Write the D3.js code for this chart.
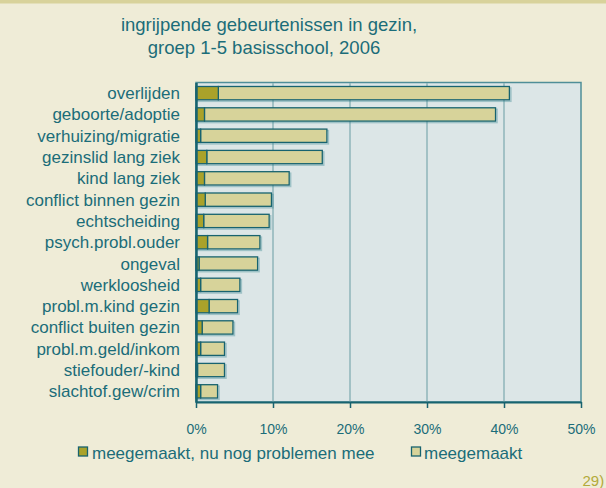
<!DOCTYPE html>
<html><head><meta charset="utf-8">
<script src="https://cdn.jsdelivr.net/npm/d3@7"></script>
<style>
html,body{margin:0;padding:0;background:#efecd7;}
svg{display:block;font-family:"Liberation Sans",Arial,sans-serif;}
</style></head>
<body><svg id="c" width="606" height="488"></svg>
<script>
const categories = ["overlijden","geboorte/adoptie","verhuizing/migratie","gezinslid lang ziek","kind lang ziek","conflict binnen gezin","echtscheiding","psych.probl.ouder","ongeval","werkloosheid","probl.m.kind gezin","conflict buiten gezin","probl.m.geld/inkom","stiefouder/-kind","slachtof.gew/crim"];
const problemen = [2.9,1.1,0.6,1.4,1.1,1.2,1.0,1.5,0.4,0.6,1.7,0.8,0.6,0.2,0.6];
const meegemaakt = [37.8,37.8,16.4,15.0,11.0,8.6,8.5,6.8,7.6,5.1,3.7,4.0,3.1,3.5,2.2];
const tickValues = [0,10,20,30,40,50];
const seriesNames = ["meegemaakt, nu nog problemen mee","meegemaakt"];
const titleLines = ["ingrijpende gebeurtenissen in gezin,","groep 1-5 basisschool, 2006"];
const pageLabel = "29)";

const svg = d3.select("#c");
const teal = "#1b6d79", dark = "#aaa22a", light = "#d7d39a";

svg.append("rect").attr("x",0).attr("y",0).attr("width",606).attr("height",488).attr("fill","#efecd7");
svg.append("rect").attr("x",0).attr("y",0).attr("width",606).attr("height",3.5).attr("fill","#d8d29b");

// title
svg.append("text").attr("x",269).attr("y",31).attr("text-anchor","middle").attr("font-size",18.5).attr("fill",teal).text(titleLines[0]);
svg.append("text").attr("x",264).attr("y",54).attr("text-anchor","middle").attr("font-size",18.5).attr("fill",teal).text(titleLines[1]);

const x = d3.scaleLinear().domain([0,50]).range([196,581]);
const y = d3.scaleBand().domain(categories).range([82.5,402]).paddingInner(0.375).paddingOuter(0.1875);

// plot background
svg.append("rect").attr("x",x(0)).attr("y",82.5).attr("width",x(50)-x(0)).attr("height",402-82.5)
  .attr("fill","#dce6e7").attr("stroke","#4f8e98").attr("stroke-width",1.5);

// gridlines
svg.append("g").selectAll("line").data(tickValues.slice(1,-1)).join("line")
  .attr("x1",d=>x(d)).attr("x2",d=>x(d)).attr("y1",83).attr("y2",402)
  .attr("stroke","#8fb5ba").attr("stroke-width",1.5);

const rows = categories.map((c,i)=>({c, p:problemen[i], m:meegemaakt[i]}));
const g = svg.append("g");
// shadows
g.selectAll("rect.sh").data(rows).join("rect").attr("class","sh")
  .attr("x",x(0)+1.5).attr("y",d=>y(d.c)+1.5).attr("width",d=>x(d.p+d.m)-x(0)).attr("height",y.bandwidth())
  .attr("fill","none").attr("stroke","#2a7f8a").attr("stroke-opacity",0.35).attr("stroke-width",1.5);
g.selectAll("rect.m").data(rows).join("rect").attr("class","m")
  .attr("x",d=>x(d.p)).attr("y",d=>y(d.c)).attr("width",d=>x(d.p+d.m)-x(d.p)).attr("height",y.bandwidth())
  .attr("fill",light).attr("stroke","#17636f").attr("stroke-width",1.3);
g.selectAll("rect.p").data(rows).join("rect").attr("class","p")
  .attr("x",x(0)).attr("y",d=>y(d.c)).attr("width",d=>x(d.p)-x(0)).attr("height",y.bandwidth())
  .attr("fill",dark).attr("stroke","#17636f").attr("stroke-width",1.3);

// axes
const xAxis = d3.axisBottom(x).tickValues(tickValues).tickFormat(d=>d+"%").tickSize(6).tickSizeOuter(0);
const ax = svg.append("g").attr("transform","translate(0,402)").call(xAxis);
ax.select(".domain").attr("stroke","#17636f").attr("stroke-width",2.2);
ax.selectAll(".tick line").attr("stroke","#17636f").attr("stroke-width",1.5);
ax.selectAll(".tick text").attr("fill",teal).attr("font-size",14).attr("font-family","Liberation Sans, Arial, sans-serif").attr("y",32).attr("dy",0);

const yAxis = d3.axisLeft(y).tickSize(0).tickPadding(16);
const ay = svg.append("g").attr("transform",`translate(${x(0)},0)`).call(yAxis);
ay.select(".domain").attr("stroke","#17636f").attr("stroke-width",2.5);
ay.selectAll(".tick text").attr("fill",teal).attr("font-size",17).attr("font-family","Liberation Sans, Arial, sans-serif").attr("dy","0.35em");

// legend
const leg = [{n:seriesNames[0],f:dark,x:78.5,tx:92},{n:seriesNames[1],f:light,x:411.5,tx:424}];
const lg = svg.append("g").selectAll("g").data(leg).join("g");
lg.append("rect").attr("x",d=>d.x).attr("y",447).attr("width",9).attr("height",9).attr("fill",d=>d.f).attr("stroke","#17636f").attr("stroke-width",1.3);
lg.append("text").attr("x",d=>d.tx).attr("y",458.5).attr("font-size",17).attr("fill",teal).text(d=>d.n);

svg.append("text").attr("x",582.5).attr("y",486).attr("font-size",15).attr("fill","#b3aa3a").text(pageLabel);
</script></body></html>
